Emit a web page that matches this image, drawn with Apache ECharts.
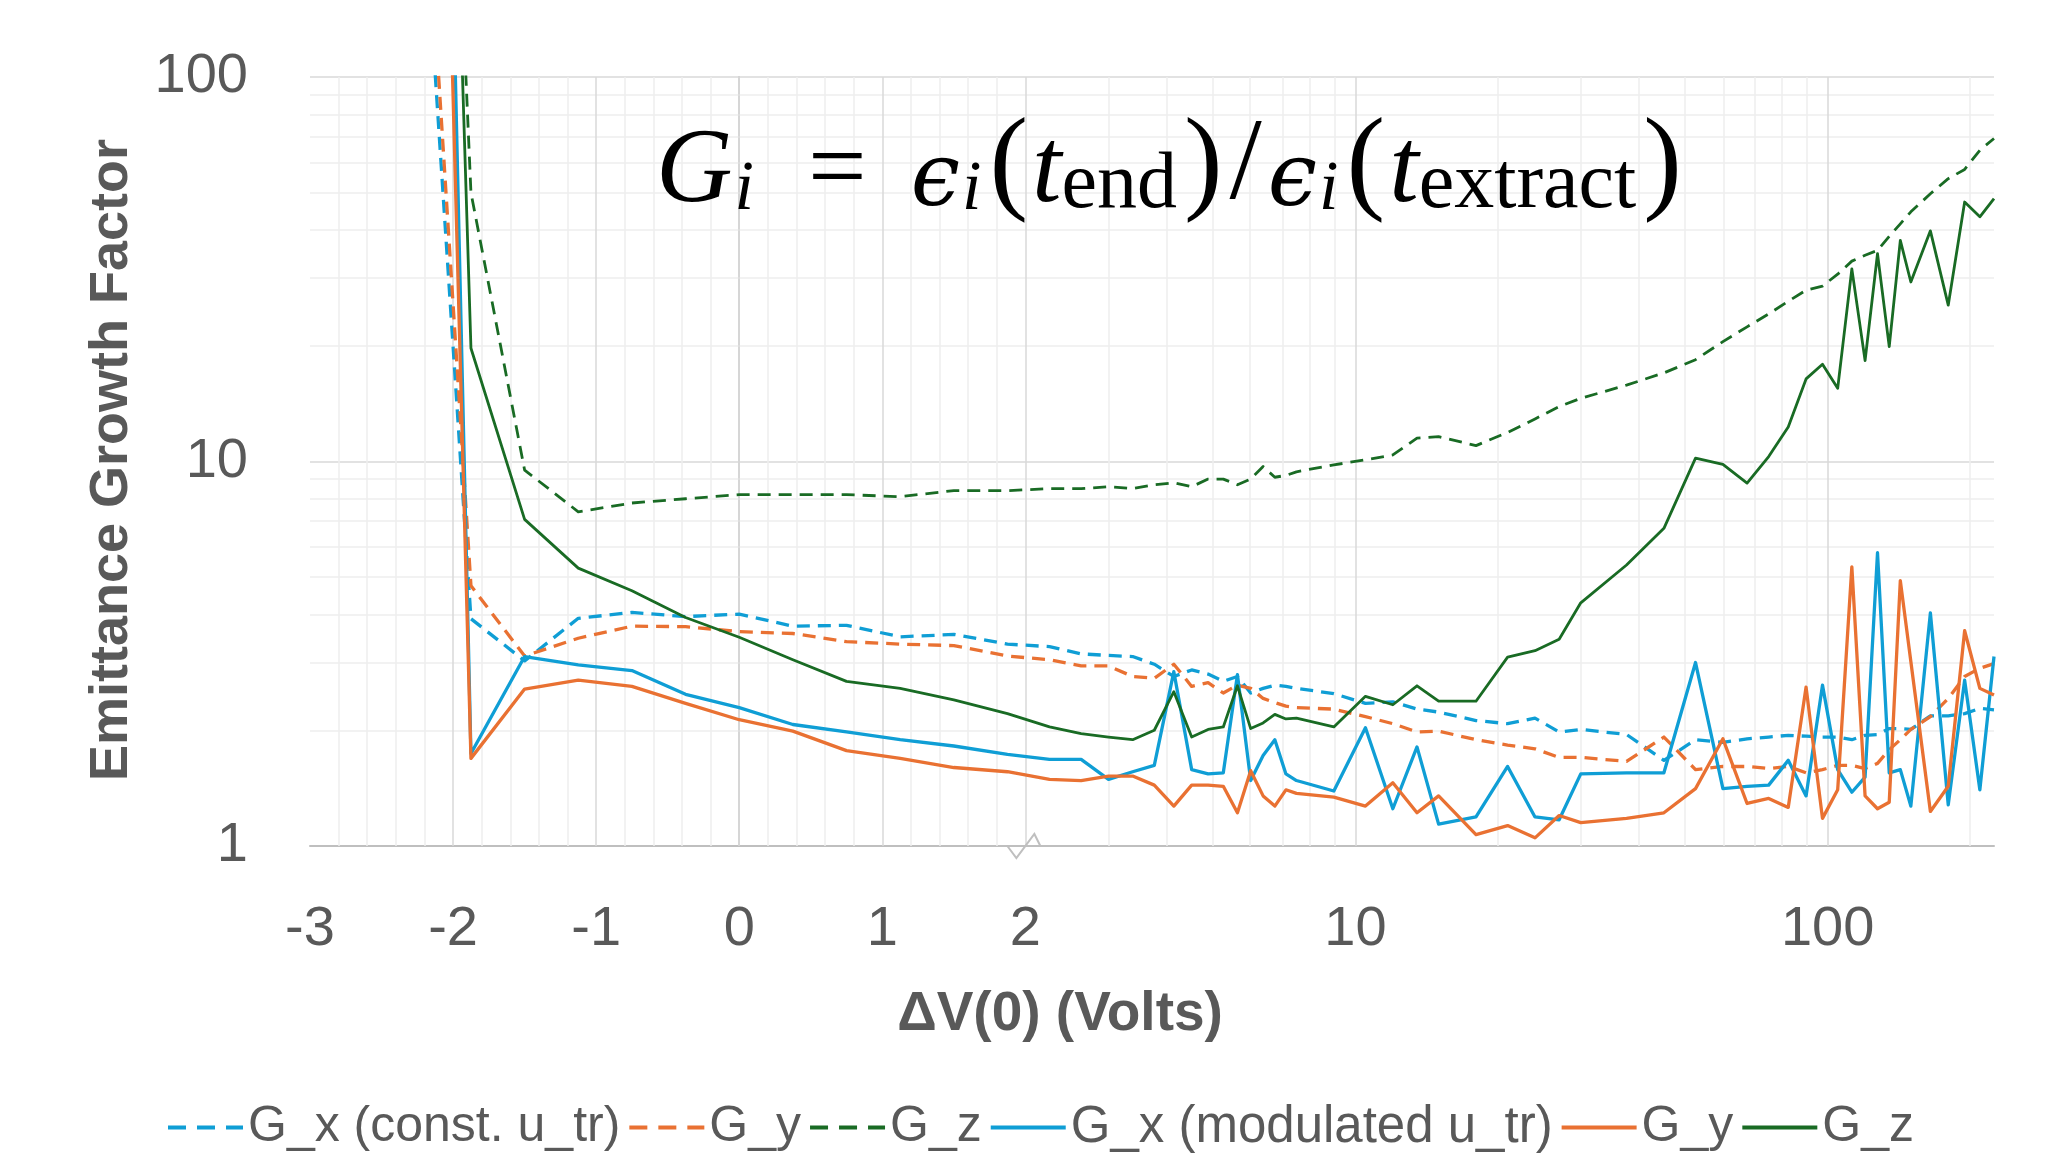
<!DOCTYPE html>
<html>
<head>
<meta charset="utf-8">
<script src="https://cdn.jsdelivr.net/npm/echarts@6/dist/echarts.min.js"></script>
<style>
  html, body { margin: 0; padding: 0; background: #ffffff; }
  #chart { width: 2046px; height: 1161px; }
</style>
</head>
<body>
<div id="chart"></div>
<script>
// Initial voltage offset ΔV(0) in volts
const dv = [-2.25, -1.875, -1.5, -1.125, -0.75, -0.375, 0, 0.375, 0.75, 1.125, 1.5, 1.875,
  2.25, 2.625, 3, 3.375, 3.75, 4.125, 4.5, 4.875, 5.25, 5.625, 6, 6.375, 6.75, 7.125, 7.5,
  9, 10.5, 12, 13.5, 15,
  18, 21, 24, 27, 30,
  37.5, 45, 52.5, 60, 67.5, 75, 82.5, 90, 97.5, 105, 112.5, 120, 127.5, 135, 142.5, 150,
  165, 180, 195, 210, 225];

// Emittance growth factors, constant transverse velocity
const gxConst = [520, 3.9, 3.03, 3.91, 4.05, 3.95, 4.01, 3.73, 3.75, 3.50, 3.55, 3.35,
  3.30, 3.16, 3.13, 3.11, 2.97, 2.76, 2.87, 2.80, 2.68, 2.76, 2.50, 2.57, 2.62, 2.60, 2.57,
  2.49, 2.35, 2.37, 2.27, 2.23,
  2.12, 2.08, 2.15, 1.98, 2.01,
  1.95, 1.67, 1.89, 1.86, 1.90, 1.92, 1.94, 1.93, 1.92, 1.92, 1.89, 1.94, 1.95, 2.02, 2.02, 2.01,
  2.18, 2.18, 2.21, 2.28, 2.26];
const gyConst = [750, 4.75, 3.12, 3.47, 3.73, 3.72, 3.61, 3.57, 3.40, 3.35, 3.32, 3.12,
  3.05, 2.94, 2.94, 2.76, 2.73, 2.97, 2.60, 2.66, 2.50, 2.62, 2.57, 2.42, 2.36, 2.31, 2.29,
  2.27, 2.17, 2.08, 1.98, 1.99,
  1.89, 1.83, 1.79, 1.70, 1.70,
  1.66, 1.92, 1.58, 1.61, 1.61, 1.59, 1.61, 1.55, 1.58, 1.62, 1.62, 1.59, 1.64, 1.78, 1.89, 2.01,
  2.17, 2.42, 2.76, 2.90, 2.98];
const gzConst = [80000, 50, 9.5, 7.4, 7.8, 8.0, 8.2, 8.2, 8.2, 8.1, 8.4, 8.4,
  8.5, 8.5, 8.6, 8.5, 8.7, 8.8, 8.6, 9.0, 9.0, 8.7, 9.0, 9.7, 9.1, 9.2, 9.4,
  9.8, 10.1, 10.4, 11.5, 11.6,
  11.0, 11.9, 12.9, 13.9, 14.6,
  15.8, 17.0, 18.4, 20.5, 22.4, 24.2, 26.1, 27.9, 28.6, 30.7, 33.2, 34.4, 35.4, 38.5, 41.5, 44.6,
  49.7, 54.4, 57.5, 64.5, 69.2];

// Emittance growth factors, modulated transverse velocity
const gxMod = [2000000, 1.74, 3.11, 2.96, 2.86, 2.48, 2.29, 2.07, 1.98, 1.89, 1.82, 1.73,
  1.68, 1.68, 1.49, 1.56, 1.62, 2.84, 1.58, 1.54, 1.55, 2.79, 1.48, 1.72, 1.89, 1.54, 1.48,
  1.39, 2.03, 1.25, 1.81, 1.14,
  1.19, 1.61, 1.19, 1.17, 1.54,
  1.55, 1.55, 3.0, 1.41, 1.43, 1.44, 1.67, 1.35, 2.62, 1.58, 1.38, 1.51, 5.79, 1.55, 1.58, 1.27,
  4.04, 1.28, 2.70, 1.40, 3.11];
const gyMod = [250000, 1.69, 2.56, 2.70, 2.60, 2.35, 2.13, 1.99, 1.77, 1.69, 1.60, 1.56,
  1.49, 1.48, 1.52, 1.52, 1.44, 1.27, 1.44, 1.44, 1.43, 1.22, 1.57, 1.35, 1.27, 1.40, 1.37,
  1.34, 1.27, 1.46, 1.22, 1.35,
  1.07, 1.13, 1.05, 1.20, 1.15,
  1.18, 1.22, 1.41, 1.90, 1.29, 1.33, 1.26, 2.59, 1.18, 1.40, 5.32, 1.35, 1.25, 1.30, 4.90, 3.02,
  1.23, 1.43, 3.63, 2.57, 2.47];
const gzMod = [600000, 19.7, 7.07, 5.28, 4.61, 3.93, 3.49, 3.05, 2.68, 2.57, 2.40, 2.21,
  2.04, 1.96, 1.92, 1.89, 2.0, 2.52, 1.92, 2.01, 2.04, 2.61, 2.02, 2.09, 2.20, 2.14, 2.15,
  2.04, 2.45, 2.33, 2.61, 2.38,
  2.38, 3.10, 3.22, 3.45, 4.29,
  5.38, 6.70, 10.2, 9.83, 8.79, 10.3, 12.3, 16.4, 17.9, 15.5, 31.7, 18.3, 34.7, 19.9, 37.6, 29.3,
  39.8, 25.5, 47.3, 43.3, 48.3];

// Axis ticks
const xTickValues = [-3, -2, -1, 0, 1, 2, 10, 100];
const xMax = 225;

const seriesNames = ['G_x (const. u_tr)', 'G_y (const. u_tr)', 'G_z (const. u_tr)',
  'G_x (modulated u_tr)', 'G_y (modulated u_tr)', 'G_z (modulated u_tr)'];
const legendLabels = ['G_x (const. u_tr)', 'G_y', 'G_z', 'G_x (modulated u_tr)', 'G_y', 'G_z'];

// Piecewise x scale: linear up to the break at 2 V, logarithmic above it
const BREAK = 2;
const LOG_K = 3.3007; // axis units per decade in the log part
function toAxis(v) { return v <= BREAK ? v : BREAK + LOG_K * Math.log10(v / BREAK); }
function fromAxis(u) { return u <= BREAK ? u : BREAK * Math.pow(10, (u - BREAK) / LOG_K); }

const BLUE = '#0F9ED5', ORANGE = '#E97132', GREEN = '#196B24';
const TEXT = '#595959';
const SANS = "'Liberation Sans', Arial, sans-serif";
const SERIF = "'Liberation Serif', 'Times New Roman', serif";

// gridline positions
const minorX = [];
for (let k = -14; k <= 9; k++) { if (k % 5 !== 0) minorX.push(k * 0.2); }
[3, 4, 5, 6, 7, 8, 9, 20, 30, 40, 50, 60, 70, 80, 90, 200].forEach(v => minorX.push(toAxis(v)));
const majorX = [-2, -1, 0, 1, 2, toAxis(10), toAxis(100)];
const minorY = [2, 3, 4, 5, 6, 7, 8, 9, 20, 30, 40, 50, 60, 70, 80, 90];

function pairs(vals) { return dv.map((x, i) => [toAxis(x), vals[i]]); }

function lineSeries(name, vals, color, dashed, width) {
  return {
    name, type: 'line', data: pairs(vals), z: 3,
    symbol: 'none', showSymbol: false, clip: true,
    lineStyle: { color, width, type: dashed ? [13, 8] : 'solid', cap: 'butt', join: 'round' },
    itemStyle: { color },
    emphasis: { disabled: true },
    animation: false
  };
}

function gridSeries(name, xs, ys, color) {
  return {
    name, type: 'line', data: [], silent: true, z: 1,
    markLine: {
      silent: true, z: 1, animation: false,
      symbol: ['none', 'none'],
      label: { show: false },
      emphasis: { disabled: true },
      lineStyle: { color, width: 1.5, type: 'solid' },
      data: xs.map(u => ({ xAxis: u })).concat(ys.map(v => ({ yAxis: v })))
    }
  };
}

const chart = echarts.init(document.getElementById('chart'), null, { renderer: 'canvas' });

const option = {
  animation: false,
  backgroundColor: '#ffffff',
  grid: { left: 310, right: 52, top: 77, bottom: 315, containLabel: false },
  xAxis: {
    type: 'value', min: -3, max: toAxis(xMax),
    axisLine: { show: true, lineStyle: { color: '#bfbfbf', width: 2 } },
    axisTick: { show: false, customValues: xTickValues.map(toAxis) },
    splitLine: { show: false },
    axisLabel: {
      customValues: xTickValues.map(toAxis),
      formatter: val => String(Math.round(fromAxis(val))),
      fontSize: 56, color: TEXT, fontFamily: SANS, margin: 56,
      showMinLabel: true, showMaxLabel: true
    }
  },
  yAxis: {
    type: 'log', logBase: 10, min: 1, max: 100,
    axisLine: { show: true, lineStyle: { color: '#d0d0d0', width: 2 } },
    axisTick: { show: false },
    splitLine: { show: true, lineStyle: { color: '#d9d9d9', width: 1.5 } },
    axisLabel: { fontSize: 56, color: TEXT, fontFamily: SANS, margin: 62 }
  },
  legend: {
    left: 161, top: 1097,
    itemWidth: 75, itemHeight: 20, itemGap: 7,
    selectedMode: false,
    textStyle: { fontSize: 50, color: TEXT, fontFamily: SANS },
    itemStyle: { opacity: 0 },
    lineStyle: { width: 4 },
    formatter: name => legendLabels[seriesNames.indexOf(name)],
    data: seriesNames.map((n, i) => ({
      name: n,
      textStyle: i === 3 ? { fontSize: 51 } : undefined,
      lineStyle: i < 3 ? { width: 4, type: [18, 11] } : { width: 4, type: 'solid' }
    }))
  },
  series: [
    gridSeries('minor grid', minorX, minorY, '#eeeeee'),
    gridSeries('major grid', majorX, [], '#d9d9d9'),
    lineSeries(seriesNames[0], gxConst, BLUE, true, 3.3),
    lineSeries(seriesNames[1], gyConst, ORANGE, true, 3.3),
    lineSeries(seriesNames[2], gzConst, GREEN, true, 2.8),
    lineSeries(seriesNames[3], gxMod, BLUE, false, 3.3),
    lineSeries(seriesNames[4], gyMod, ORANGE, false, 3.3),
    lineSeries(seriesNames[5], gzMod, GREEN, false, 2.8)
  ],
  graphic: [
    {
      type: 'text', id: 'yname', x: 112, y: 460, rotation: Math.PI / 2, z: 10,
      style: {
        text: 'Emittance Growth Factor', fill: TEXT,
        font: "bold 54px 'Liberation Sans', Arial, sans-serif",
        align: 'center', verticalAlign: 'middle', textAlign: 'center', textVerticalAlign: 'middle'
      }
    },
    {
      type: 'text', id: 'xname', x: 1060, y: 1015, z: 10,
      style: {
        text: 'ΔV(0) (Volts)', fill: TEXT,
        font: "bold 55px 'Liberation Sans', Arial, sans-serif",
        align: 'center', verticalAlign: 'middle', textAlign: 'center', textVerticalAlign: 'middle'
      }
    },
    {
      type: 'text', id: 'formula', left: 656, top: 110, z: 10,
      style: {
        text: '{g|G}{s|i}{o|=}{e|ϵ}{s|i}{p|(}{g|t}{r|end}{p|)}{d|/}{e|ϵ}{s|i}{p|(}{g|t}{r|extract}{p|)}',
        fill: '#000000',
        rich: {
          g: { fontFamily: SERIF, fontStyle: 'italic', fontSize: 106, lineHeight: 106, verticalAlign: 'bottom', fill: '#000' },
          s: { fontFamily: SERIF, fontStyle: 'italic', fontSize: 70, lineHeight: 54, verticalAlign: 'bottom', fill: '#000', padding: [0, 4, 0, 2] },
          r: { fontFamily: SERIF, fontSize: 80, lineHeight: 62, verticalAlign: 'bottom', fill: '#000', padding: [0, 3, 0, 0] },
          o: { fontFamily: SERIF, fontSize: 104, lineHeight: 106, verticalAlign: 'bottom', fill: '#000', padding: [0, 44, 0, 50] },
          e: { fontFamily: "'DejaVu Serif', serif", fontStyle: 'italic', fontSize: 88, lineHeight: 96, verticalAlign: 'bottom', fill: '#000' },
          p: { fontFamily: SERIF, fontSize: 116, lineHeight: 88, verticalAlign: 'bottom', fill: '#000', padding: [0, 4, 0, 4] },
          d: { fontFamily: SERIF, fontSize: 116, lineHeight: 88, verticalAlign: 'bottom', fill: '#000', padding: [0, 6, 0, 3] }
        }
      }
    }
  ]
};

chart.setOption(option);

// Axis-break marker drawn where the linear part meets the log part
const bp = chart.convertToPixel({ xAxisIndex: 0, yAxisIndex: 0 }, [BREAK, 1]);
option.graphic.push({
  type: 'polyline', id: 'axisBreak', z: 10,
  shape: { points: [[bp[0] - 18, bp[1]], [bp[0] - 9, bp[1] + 12], [bp[0] + 9, bp[1] - 12], [bp[0] + 15, bp[1]]] },
  style: { stroke: '#bfbfbf', lineWidth: 2, fill: null }
});
chart.setOption(option, true);
</script>
</body>
</html>
